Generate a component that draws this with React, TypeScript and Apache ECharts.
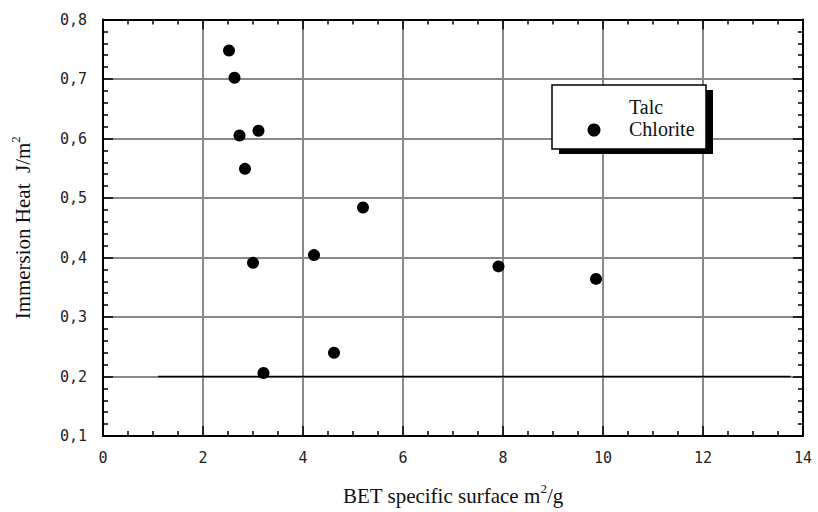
import React, { useEffect, useRef } from "react";
import * as echarts from "echarts";

const chloriteX = [2.52, 2.63, 2.73, 3.11, 2.84, 3.0, 3.21, 4.22, 5.2, 4.62, 7.91, 9.86];
const chloriteY = [0.748, 0.702, 0.605, 0.613, 0.549, 0.391, 0.206, 0.404, 0.484, 0.24, 0.385, 0.364];
const talcX = [1.1, 13.75];
const talcY = [0.2, 0.2];

const xTitle = "BET specific surface ";
const yTitle = "Immersion Heat  J/m";
const legendNames = ["Talc", "Chlorite"];

const X_MIN = 0, X_MAX = 14, X_STEP = 2;
const Y_MIN = 0.1, Y_MAX = 0.8, Y_STEP = 0.1;

export default function App() {
  const ref = useRef<HTMLDivElement>(null);
  useEffect(() => {
    if (!ref.current) return;
    const chart = echarts.init(ref.current, null, { renderer: "svg" });
    const monoFont = "DejaVu Sans Mono";
    const serif = "Liberation Serif";
    const axisCommon = {
      axisLine: { show: true, onZero: false, lineStyle: { color: "#000", width: 2 } },
      axisTick: { show: true, inside: true, length: 10, lineStyle: { color: "#000", width: 1.5 } },
      minorTick: { show: true, length: 5, lineStyle: { color: "#000", width: 1.5 } },
    };
    const grid = { left: 103, right: 15, top: 19.5, bottom: 74.5 };
    const lx = 552, ly = 85, lw = 154, lh = 64;
    chart.setOption({
      animation: false,
      backgroundColor: "#fff",
      grid,
      xAxis: [
        {
          type: "value", min: X_MIN, max: X_MAX, interval: X_STEP, position: "bottom",
          ...axisCommon,
          minorTick: { ...axisCommon.minorTick, splitNumber: 4 },
          splitLine: { show: true, lineStyle: { color: "#888", width: 2 } },
          axisLabel: { margin: 14, color: "#222", fontFamily: monoFont, fontSize: 15 },
          name: `{t|${xTitle}m}{s|2}{t|/g}`,
          nameLocation: "middle",
          nameGap: 46,
          nameTextStyle: {
            rich: {
              t: { fontFamily: serif, fontSize: 21, color: "#111", lineHeight: 24, verticalAlign: "bottom" },
              s: { fontFamily: serif, fontSize: 13, color: "#111", lineHeight: 24, verticalAlign: "top", padding: [0, 0, 12, 0] },
            },
          },
        },
        {
          type: "value", min: X_MIN, max: X_MAX, interval: X_STEP, position: "top",
          ...axisCommon,
          minorTick: { ...axisCommon.minorTick, splitNumber: 4 },
          splitLine: { show: false },
          axisLabel: { show: false },
        },
      ],
      yAxis: [
        {
          type: "value", min: Y_MIN, max: Y_MAX, interval: Y_STEP, position: "left",
          ...axisCommon,
          minorTick: { ...axisCommon.minorTick, splitNumber: 5 },
          splitLine: { show: true, lineStyle: { color: "#888", width: 2 } },
          axisLabel: {
            margin: 16, color: "#222", fontFamily: monoFont, fontSize: 15,
            formatter: (v: number) => v.toFixed(1).replace(".", ","),
          },
          name: `{t|${yTitle}}{s|2}`,
          nameLocation: "middle",
          nameGap: 70,
          nameTextStyle: {
            rich: {
              t: { fontFamily: serif, fontSize: 21, color: "#111", lineHeight: 24, verticalAlign: "bottom" },
              s: { fontFamily: serif, fontSize: 13, color: "#111", lineHeight: 24, verticalAlign: "top", padding: [0, 0, 12, 0] },
            },
          },
        },
        {
          type: "value", min: Y_MIN, max: Y_MAX, interval: Y_STEP, position: "right",
          ...axisCommon,
          minorTick: { ...axisCommon.minorTick, splitNumber: 5 },
          splitLine: { show: false },
          axisLabel: { show: false },
        },
      ],
      series: [
        {
          name: legendNames[0],
          type: "line",
          xAxisIndex: 0, yAxisIndex: 0,
          data: talcX.map((x, i) => [x, talcY[i]]),
          showSymbol: false,
          lineStyle: { color: "#000", width: 1.5 },
          z: 3,
        },
        {
          name: legendNames[1],
          type: "scatter",
          xAxisIndex: 0, yAxisIndex: 0,
          data: chloriteX.map((x, i) => [x, chloriteY[i]]),
          symbol: "circle",
          symbolSize: 12,
          itemStyle: { color: "#000", opacity: 1 },
          z: 4,
        },
      ],
      graphic: [
        { type: "rect", shape: { x: lx + 7, y: ly + 5, width: lw, height: lh }, style: { fill: "#000" }, z: 10 },
        { type: "rect", shape: { x: lx, y: ly, width: lw, height: lh }, style: { fill: "#fff", stroke: "#000", lineWidth: 1.5 }, z: 11 },
        { type: "text", x: lx + 77, y: ly + 22, style: { text: legendNames[0], font: `20px "${serif}"`, fill: "#111", verticalAlign: "middle" }, z: 12 },
        { type: "circle", shape: { cx: lx + 42, cy: ly + 45, r: 6.5 }, style: { fill: "#000" }, z: 12 },
        { type: "text", x: lx + 77, y: ly + 44, style: { text: legendNames[1], font: `20px "${serif}"`, fill: "#111", verticalAlign: "middle" }, z: 12 },
      ],
    });
    return () => chart.dispose();
  }, []);
  return <div ref={ref} style={{ position: "fixed", left: 0, top: 0, width: 818, height: 512 }} />;
}
